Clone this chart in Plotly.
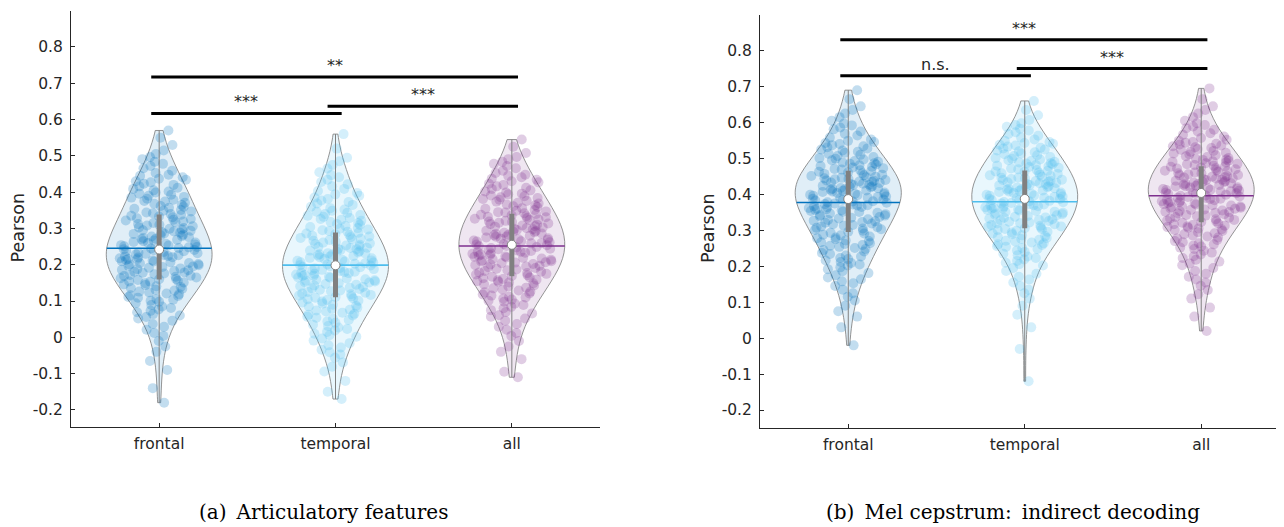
import numpy as np
import plotly.graph_objects as go

# ---------------- data ----------------
CATEGORIES = ["frontal", "temporal", "all"]
POSITIONS = [1, 2, 3]

# (a) Articulatory features
A_FRONTAL = [-0.18, -0.14, -0.09, -0.065, -0.04, -0.025, -0.01,
             0.004, 0.012, 0.021, 0.029, 0.037, 0.046,
             0.052, 0.056, 0.06, 0.064, 0.069, 0.073, 0.077, 0.081, 0.085, 0.089, 0.094, 0.098,
             0.101, 0.104, 0.106, 0.109, 0.111, 0.114, 0.116, 0.119, 0.121, 0.124,
             0.126, 0.129, 0.131, 0.134, 0.136, 0.139, 0.141, 0.144, 0.146, 0.149,
             0.151, 0.153, 0.154, 0.156, 0.158, 0.160, 0.161, 0.163, 0.165, 0.167, 0.169, 0.170, 0.172, 0.174,
             0.176, 0.178, 0.179, 0.181, 0.183, 0.185, 0.186, 0.188, 0.190, 0.192, 0.194, 0.195, 0.197, 0.199,
             0.201, 0.202, 0.204, 0.205, 0.207, 0.209, 0.210, 0.212, 0.213, 0.215, 0.216, 0.218, 0.220, 0.221,
             0.223, 0.224, 0.226, 0.227, 0.229, 0.230, 0.232, 0.234, 0.235, 0.237, 0.238, 0.240, 0.241, 0.243,
             0.245, 0.246, 0.248, 0.249,
             0.251, 0.253, 0.254, 0.256, 0.258, 0.260, 0.261, 0.263, 0.265, 0.267, 0.269, 0.270, 0.272, 0.274,
             0.276, 0.278, 0.279, 0.281, 0.283, 0.285, 0.286, 0.288, 0.290, 0.292, 0.294, 0.295, 0.297, 0.299,
             0.301, 0.303, 0.306, 0.308, 0.310, 0.312, 0.315, 0.317, 0.319, 0.322, 0.324, 0.326, 0.328, 0.331,
             0.333, 0.335, 0.338, 0.340, 0.342, 0.344, 0.347, 0.349,
             0.351, 0.354, 0.357, 0.360, 0.362, 0.365, 0.368, 0.371, 0.374, 0.376, 0.379, 0.382, 0.385, 0.387,
             0.390, 0.393, 0.396, 0.399,
             0.402, 0.405, 0.409, 0.412, 0.416, 0.420, 0.423, 0.427, 0.430, 0.434, 0.437, 0.441, 0.445, 0.448,
             0.453, 0.459, 0.466, 0.472, 0.478, 0.484, 0.491, 0.497,
             0.505, 0.515, 0.53, 0.55, 0.57]
A_TEMPORAL = [-0.17, -0.15, -0.12, -0.094, -0.081, -0.069, -0.056,
              -0.047, -0.041, -0.034, -0.028, -0.022, -0.016, -0.009, -0.003,
              0.002, 0.006, 0.010, 0.015, 0.019, 0.023, 0.027, 0.031, 0.035, 0.040, 0.044, 0.048,
              0.051, 0.054, 0.057, 0.060, 0.062, 0.065, 0.068, 0.071, 0.074, 0.076, 0.079, 0.082, 0.085, 0.087,
              0.090, 0.093, 0.096, 0.099,
              0.101, 0.103, 0.105, 0.107, 0.109, 0.111, 0.113, 0.115, 0.117, 0.119, 0.121, 0.123, 0.125, 0.127,
              0.129, 0.131, 0.133, 0.135, 0.137, 0.139, 0.141, 0.143, 0.145, 0.147, 0.149,
              0.151, 0.152, 0.154, 0.156, 0.157, 0.159, 0.160, 0.162, 0.164, 0.165, 0.167, 0.169, 0.170, 0.172,
              0.173, 0.175, 0.177, 0.178, 0.180, 0.181, 0.183, 0.185, 0.186, 0.188, 0.190, 0.191, 0.193, 0.194,
              0.196, 0.198, 0.199,
              0.201, 0.203, 0.204, 0.206, 0.207, 0.209, 0.211, 0.212, 0.214, 0.216, 0.218, 0.219, 0.221, 0.223,
              0.224, 0.226, 0.228, 0.229, 0.231, 0.232, 0.234, 0.236, 0.237, 0.239, 0.241, 0.243, 0.244, 0.246,
              0.247, 0.249,
              0.251, 0.253, 0.255, 0.257, 0.259, 0.261, 0.263, 0.266, 0.268, 0.270, 0.272, 0.274, 0.276, 0.278,
              0.280, 0.282, 0.284, 0.286, 0.288, 0.291, 0.293, 0.295, 0.297, 0.299,
              0.301, 0.304, 0.307, 0.310, 0.312, 0.315, 0.318, 0.321, 0.324, 0.326, 0.329, 0.332, 0.335, 0.337,
              0.340, 0.343, 0.346, 0.349,
              0.352, 0.356, 0.360, 0.365, 0.369, 0.373, 0.377, 0.381, 0.385, 0.390, 0.394, 0.398,
              0.403, 0.409, 0.416, 0.422, 0.428, 0.434, 0.441, 0.447,
              0.455, 0.465, 0.475, 0.485, 0.495, 0.52, 0.56]
A_ALL = [-0.11, -0.095, -0.06, -0.04, -0.025, -0.01,
         0.004, 0.012, 0.021, 0.029, 0.037, 0.046,
         0.052, 0.057, 0.061, 0.066, 0.070, 0.075, 0.080, 0.084, 0.089, 0.093, 0.098,
         0.101, 0.104, 0.107, 0.110, 0.112, 0.115, 0.118, 0.121, 0.124, 0.126, 0.129, 0.132, 0.135, 0.137,
         0.140, 0.143, 0.146, 0.149,
         0.151, 0.153, 0.155, 0.157, 0.159, 0.161, 0.163, 0.165, 0.167, 0.169, 0.171, 0.173, 0.175, 0.177,
         0.179, 0.181, 0.183, 0.185, 0.187, 0.189, 0.191, 0.193, 0.195, 0.197, 0.199,
         0.201, 0.202, 0.204, 0.206, 0.207, 0.209, 0.210, 0.212, 0.214, 0.215, 0.217, 0.219, 0.220, 0.222,
         0.223, 0.225, 0.227, 0.228, 0.230, 0.231, 0.233, 0.235, 0.236, 0.238, 0.240, 0.241, 0.243, 0.244,
         0.246, 0.248, 0.249,
         0.251, 0.252, 0.254, 0.256, 0.257, 0.259, 0.260, 0.262, 0.264, 0.265, 0.267, 0.269, 0.270, 0.272,
         0.273, 0.275, 0.277, 0.278, 0.280, 0.281, 0.283, 0.285, 0.286, 0.288, 0.290, 0.291, 0.293, 0.294,
         0.296, 0.298, 0.299,
         0.301, 0.303, 0.305, 0.306, 0.308, 0.310, 0.312, 0.314, 0.316, 0.318, 0.319, 0.321, 0.323, 0.325,
         0.327, 0.329, 0.331, 0.332, 0.334, 0.336, 0.338, 0.340, 0.342, 0.344, 0.345, 0.347, 0.349,
         0.351, 0.354, 0.356, 0.359, 0.361, 0.364, 0.366, 0.369, 0.371, 0.374, 0.376, 0.379, 0.381, 0.384,
         0.386, 0.389, 0.391, 0.394, 0.396, 0.399,
         0.402, 0.405, 0.409, 0.412, 0.416, 0.420, 0.423, 0.427, 0.430, 0.434, 0.437, 0.441, 0.445, 0.448,
         0.453, 0.459, 0.466, 0.472, 0.478, 0.484, 0.491, 0.497,
         0.508, 0.525, 0.545]

# (b) Mel cepstrum: indirect decoding
B_FRONTAL = [-0.02, 0.03, 0.06, 0.075, 0.09, 0.105, 0.115, 0.125, 0.135, 0.145,
             0.153, 0.158, 0.164, 0.169, 0.175, 0.181, 0.186, 0.192, 0.197,
             0.202, 0.205, 0.209, 0.212, 0.216, 0.220, 0.223, 0.227, 0.230, 0.234, 0.237, 0.241, 0.245, 0.248,
             0.251, 0.254, 0.257, 0.259, 0.262, 0.264, 0.267, 0.270, 0.272, 0.275, 0.278, 0.280, 0.283, 0.286,
             0.288, 0.291, 0.293, 0.296, 0.299,
             0.301, 0.303, 0.305, 0.307, 0.309, 0.311, 0.313, 0.315, 0.317, 0.319, 0.321, 0.323, 0.325, 0.327,
             0.329, 0.331, 0.333, 0.335, 0.337, 0.339, 0.341, 0.343, 0.345, 0.347, 0.349,
             0.351, 0.352, 0.354, 0.356, 0.357, 0.359, 0.360, 0.362, 0.364, 0.365, 0.367, 0.369, 0.370, 0.372,
             0.373, 0.375, 0.377, 0.378, 0.380, 0.381, 0.383, 0.385, 0.386, 0.388, 0.390, 0.391, 0.393, 0.394,
             0.396, 0.398, 0.399,
             0.401, 0.402, 0.404, 0.405, 0.407, 0.408, 0.410, 0.411, 0.413, 0.414, 0.416, 0.417, 0.418, 0.420,
             0.421, 0.423, 0.424, 0.426, 0.427, 0.429, 0.430, 0.432, 0.433, 0.435, 0.436, 0.438, 0.439, 0.440,
             0.442, 0.443, 0.445, 0.446, 0.448, 0.449,
             0.451, 0.453, 0.455, 0.457, 0.459, 0.461, 0.463, 0.465, 0.467, 0.469, 0.471, 0.473, 0.475, 0.477,
             0.479, 0.481, 0.483, 0.485, 0.487, 0.489, 0.491, 0.493, 0.495, 0.497, 0.499,
             0.501, 0.504, 0.507, 0.510, 0.513, 0.516, 0.519, 0.522, 0.525, 0.528, 0.531, 0.534, 0.537, 0.540,
             0.543, 0.546, 0.549,
             0.553, 0.558, 0.564, 0.569, 0.575, 0.581, 0.586, 0.592, 0.597,
             0.605, 0.615, 0.625, 0.635, 0.645, 0.665, 0.69]
B_TEMPORAL = [-0.12, -0.03, 0.03, 0.065, 0.09, 0.11, 0.125, 0.135, 0.145,
              0.155, 0.163, 0.171, 0.179, 0.187, 0.195,
              0.202, 0.206, 0.210, 0.215, 0.219, 0.223, 0.227, 0.231, 0.235, 0.240, 0.244, 0.248,
              0.251, 0.254, 0.256, 0.259, 0.261, 0.264, 0.266, 0.269, 0.271, 0.274, 0.276, 0.279, 0.281, 0.284,
              0.286, 0.289, 0.291, 0.294, 0.296, 0.299,
              0.301, 0.303, 0.304, 0.306, 0.308, 0.310, 0.311, 0.313, 0.315, 0.317, 0.319, 0.320, 0.322, 0.324,
              0.326, 0.328, 0.329, 0.331, 0.333, 0.335, 0.336, 0.338, 0.340, 0.342, 0.344, 0.345, 0.347, 0.349,
              0.351, 0.352, 0.354, 0.355, 0.357, 0.358, 0.360, 0.361, 0.363, 0.364, 0.366, 0.367, 0.369, 0.370,
              0.372, 0.373, 0.375, 0.376, 0.378, 0.379, 0.381, 0.382, 0.384, 0.385, 0.387, 0.388, 0.390, 0.391,
              0.393, 0.394, 0.396, 0.397, 0.399,
              0.401, 0.402, 0.404, 0.405, 0.407, 0.408, 0.410, 0.411, 0.413, 0.414, 0.416, 0.417, 0.419, 0.420,
              0.422, 0.423, 0.425, 0.426, 0.428, 0.429, 0.431, 0.432, 0.434, 0.435, 0.437, 0.438, 0.440, 0.441,
              0.443, 0.444, 0.446, 0.447, 0.449,
              0.451, 0.453, 0.455, 0.457, 0.459, 0.461, 0.463, 0.464, 0.466, 0.468, 0.470, 0.472, 0.474, 0.476,
              0.478, 0.480, 0.482, 0.484, 0.486, 0.487, 0.489, 0.491, 0.493, 0.495, 0.497, 0.499,
              0.501, 0.504, 0.507, 0.509, 0.512, 0.514, 0.517, 0.520, 0.522, 0.525, 0.528, 0.530, 0.533, 0.536,
              0.538, 0.541, 0.543, 0.546, 0.549,
              0.553, 0.558, 0.563, 0.568, 0.573, 0.578, 0.583, 0.588, 0.593, 0.598,
              0.607, 0.62, 0.635, 0.66]
B_ALL = [0.02, 0.06, 0.085, 0.11, 0.122, 0.134, 0.146,
         0.155, 0.163, 0.171, 0.179, 0.187, 0.195,
         0.203, 0.208, 0.213, 0.218, 0.223, 0.228, 0.233, 0.238, 0.243, 0.248,
         0.252, 0.255, 0.258, 0.261, 0.264, 0.267, 0.270, 0.273, 0.277, 0.280, 0.283, 0.286, 0.289, 0.292,
         0.295, 0.298,
         0.301, 0.303, 0.305, 0.307, 0.309, 0.311, 0.313, 0.315, 0.317, 0.319, 0.321, 0.323, 0.325, 0.327,
         0.329, 0.331, 0.333, 0.335, 0.337, 0.339, 0.341, 0.343, 0.345, 0.347, 0.349,
         0.351, 0.352, 0.354, 0.355, 0.357, 0.358, 0.360, 0.361, 0.363, 0.364, 0.366, 0.367, 0.369, 0.370,
         0.372, 0.373, 0.375, 0.376, 0.378, 0.379, 0.381, 0.382, 0.384, 0.385, 0.387, 0.388, 0.390, 0.391,
         0.393, 0.394, 0.396, 0.397, 0.399,
         0.401, 0.402, 0.403, 0.405, 0.406, 0.408, 0.409, 0.410, 0.412, 0.413, 0.415, 0.416, 0.417, 0.419,
         0.420, 0.422, 0.423, 0.424, 0.426, 0.427, 0.429, 0.430, 0.431, 0.433, 0.434, 0.435, 0.437, 0.438,
         0.440, 0.441, 0.442, 0.444, 0.445, 0.447, 0.448, 0.449,
         0.451, 0.453, 0.454, 0.456, 0.458, 0.459, 0.461, 0.463, 0.465, 0.466, 0.468, 0.470, 0.472, 0.473,
         0.475, 0.477, 0.478, 0.480, 0.482, 0.484, 0.485, 0.487, 0.489, 0.491, 0.492, 0.494, 0.496, 0.497,
         0.499,
         0.501, 0.504, 0.506, 0.509, 0.511, 0.514, 0.516, 0.519, 0.521, 0.524, 0.526, 0.529, 0.531, 0.534,
         0.536, 0.539, 0.541, 0.544, 0.546, 0.549,
         0.552, 0.557, 0.561, 0.566, 0.570, 0.575, 0.580, 0.584, 0.589, 0.593, 0.598,
         0.605, 0.615, 0.625, 0.635, 0.645, 0.665, 0.695]

# significance comparisons: (from position, to position, bar height, label)
SIG_A = [(1, 2, 0.617, "***"), (2, 3, 0.637, "***"), (1, 3, 0.717, "**")]
SIG_B = [(1, 2, 0.730, "n.s."), (2, 3, 0.750, "***"), (1, 3, 0.830, "***")]

Y_TICKS = [-0.2, -0.1, 0, 0.1, 0.2, 0.3, 0.4, 0.5, 0.6, 0.7, 0.8]
Y_TICK_TEXT = ["-0.2", "-0.1", "0", "0.1", "0.2", "0.3", "0.4", "0.5", "0.6", "0.7", "0.8"]

CAPTION_A = "(a)\u2002Articulatory features"
CAPTION_B = "(b)\u2002Mel cepstrum:\u2002indirect decoding"
Y_TITLE = "Pearson"

COLORS = [(0, 114, 189), (77, 190, 238), (126, 47, 142)]

VIOLIN_WIDTH = 0.6


def kde_halfwidth_at(vals, y):
    """Half-width of a 'scalemode=width' violin at value y (same KDE rule as plotly.js)."""
    v = np.asarray(vals, dtype=float)
    n = len(v)
    sd = v.std(ddof=1)
    q1, q3 = np.percentile(v, [25, 75])
    bw = 1.059 * min(sd, (q3 - q1) / 1.349) * n ** -0.2
    lo, hi = v.min(), v.max()
    steps = int(np.ceil((hi - lo) / (bw / 3)))
    grid = np.linspace(lo, hi, steps + 1)

    def kde(t):
        t = np.atleast_1d(t)
        return np.exp(-0.5 * ((t[:, None] - v[None, :]) / bw) ** 2).sum(axis=1)

    return VIOLIN_WIDTH / 2 * kde(y)[0] / kde(grid).max()


# ---------------- figure ----------------
OFF = 8                      # page body margin of the html page
W, H = 1284 - OFF, 527 - OFF


def px(xp):
    return (xp - OFF) / W


def py(yp):
    return (H - (yp - OFF)) / H


fig = go.Figure()

panels = [
    dict(data=[A_FRONTAL, A_TEMPORAL, A_ALL], sig=SIG_A, xa="x", ya="y"),
    dict(data=[B_FRONTAL, B_TEMPORAL, B_ALL], sig=SIG_B, xa="x2", ya="y2"),
]

GRAY = "rgb(128,128,128)"
TXT = "#262626"

for p in panels:
    for pos, vals, col in zip(POSITIONS, p["data"], COLORS):
        r, g, b = col
        fig.add_trace(go.Violin(
            x0=pos, y=vals, xaxis=p["xa"], yaxis=p["ya"],
            width=VIOLIN_WIDTH, scalemode="width", spanmode="hard",
            fillcolor=f"rgba({r},{g},{b},0.12)",
            line=dict(color="rgb(120,120,120)", width=0.8),
            points="all", pointpos=0, jitter=0.75,
            marker=dict(color=f"rgba({r},{g},{b},0.24)", size=10, line=dict(width=0)),
            meanline=dict(visible=False),
            box=dict(visible=False), showlegend=False, hoverinfo="skip",
        ))
        arr = np.array(vals)
        q1, med, q3 = np.percentile(arr, [25, 50, 75])
        mean = arr.mean()
        hw = kde_halfwidth_at(arr, mean)
        fig.add_trace(go.Scatter(x=[pos - hw, pos + hw], y=[mean, mean], mode="lines",
                                 line=dict(color=f"rgb({r},{g},{b})", width=1.6), xaxis=p["xa"], yaxis=p["ya"],
                                 showlegend=False, hoverinfo="skip"))
        fig.add_trace(go.Scatter(x=[pos, pos], y=[arr.min(), arr.max()], mode="lines",
                                 line=dict(color=GRAY, width=1), xaxis=p["xa"], yaxis=p["ya"],
                                 showlegend=False, hoverinfo="skip"))
        fig.add_trace(go.Scatter(x=[pos, pos], y=[q1, q3], mode="lines",
                                 line=dict(color=GRAY, width=5), xaxis=p["xa"], yaxis=p["ya"],
                                 showlegend=False, hoverinfo="skip"))
        fig.add_trace(go.Scatter(x=[pos], y=[med], mode="markers",
                                 marker=dict(color="white", size=9, line=dict(color=GRAY, width=1)),
                                 xaxis=p["xa"], yaxis=p["ya"], showlegend=False, hoverinfo="skip"))
    for (a, b_, h, lab) in p["sig"]:
        fig.add_shape(type="line", xref=p["xa"], yref=p["ya"], x0=a - 0.045, x1=b_ + 0.035, y0=h, y1=h,
                      line=dict(color="black", width=3))
        fig.add_annotation(xref=p["xa"], yref=p["ya"], x=(a - 0.045 + b_ + 0.035) / 2, y=h, text=lab,
                           showarrow=False, yanchor="bottom", yshift=0,
                           font=dict(family="DejaVu Sans", size=16, color=TXT))

axis_common = dict(showline=True, linecolor=TXT, linewidth=1, ticks="inside", ticklen=4, tickcolor=TXT,
                   tickfont=dict(family="DejaVu Sans", size=15.5, color=TXT), showgrid=False, zeroline=False,
                   mirror=False, automargin=False)

fig.update_layout(
    width=W, height=H, margin=dict(l=0, r=0, t=0, b=0, pad=0, autoexpand=False),
    paper_bgcolor="white", plot_bgcolor="white", violinmode="overlay",
    xaxis=dict(domain=[px(71), px(600)], range=[0.5, 3.5], type="linear", tickvals=POSITIONS,
               ticktext=CATEGORIES, anchor="y", ticklabelstandoff=2, **axis_common),
    yaxis=dict(domain=[py(427), py(10.7)], range=[-0.247, 0.90], tickvals=Y_TICKS,
               ticktext=Y_TICK_TEXT, anchor="x", ticklabelstandoff=4, **axis_common),
    xaxis2=dict(domain=[px(760), 1.0], range=[0.5, 3.469], type="linear", tickvals=POSITIONS,
                ticktext=CATEGORIES, anchor="y2", ticklabelstandoff=2, **axis_common),
    yaxis2=dict(domain=[py(428), py(14.7)], range=[-0.25, 0.90], tickvals=Y_TICKS,
                ticktext=Y_TICK_TEXT, anchor="x2", ticklabelstandoff=4, **axis_common),
)

for xc, txt in [(17.5, Y_TITLE), (708, Y_TITLE)]:
    fig.add_annotation(xref="paper", yref="paper", x=px(xc), y=py(228), text=txt, textangle=-90,
                       showarrow=False, xanchor="center", yanchor="middle",
                       font=dict(family="DejaVu Sans", size=17.5, color=TXT))

for xc, txt in [(323, CAPTION_A), (1013, CAPTION_B)]:
    fig.add_annotation(xref="paper", yref="paper", x=px(xc), y=py(512), text=txt,
                       showarrow=False, xanchor="center", yanchor="middle",
                       font=dict(family="DejaVu Serif", size=20, color="black"))

fig.write_html("out.html")
